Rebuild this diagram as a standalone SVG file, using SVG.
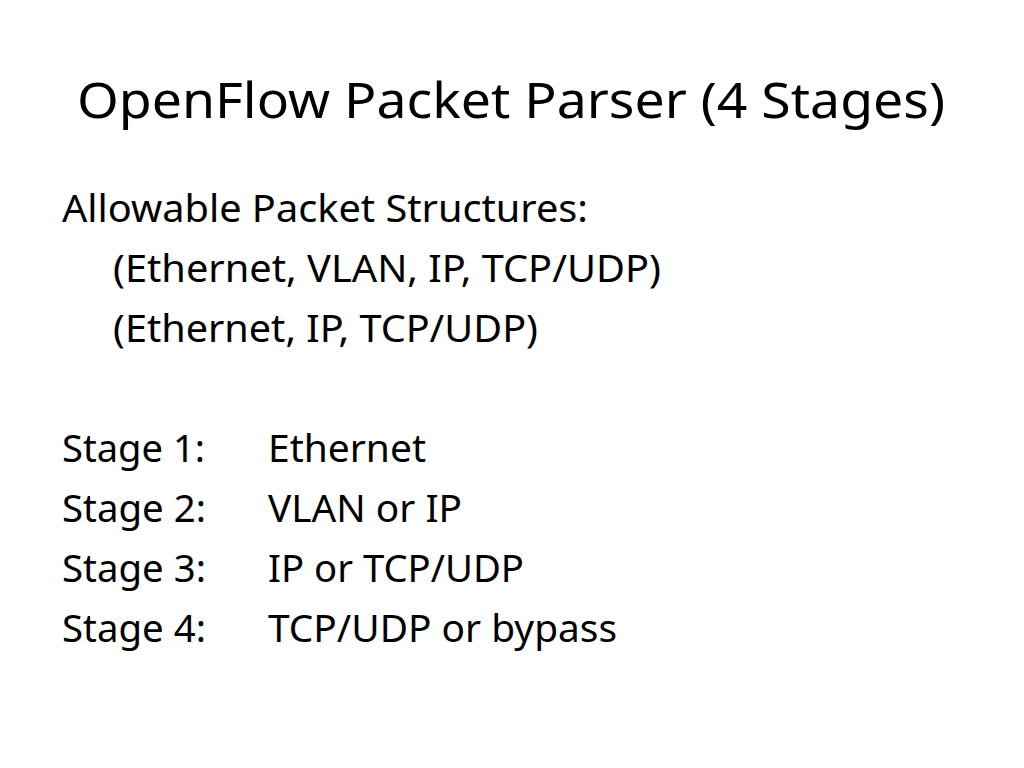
<svg xmlns="http://www.w3.org/2000/svg" width="1024" height="768" viewBox="0 0 1024 768">
<style>
text{font-family:"Noto Sans","Open Sans","Liberation Sans",sans-serif;fill:#000}
.t{font-size:50px}
.b{font-size:38.5px}
</style>
<rect width="1024" height="768" fill="#fff"/>
<g id="title"><text class="t" x="77" y="118" textLength="868" lengthAdjust="spacingAndGlyphs">OpenFlow Packet Parser (4 Stages)</text></g>
<g id="structures">
<text class="b" x="62" y="222" textLength="526" lengthAdjust="spacingAndGlyphs">Allowable Packet Structures:</text>
<text class="b" x="113" y="282" textLength="548" lengthAdjust="spacingAndGlyphs">(Ethernet, VLAN, IP, TCP/UDP)</text>
<text class="b" x="113" y="342" textLength="425" lengthAdjust="spacingAndGlyphs">(Ethernet, IP, TCP/UDP)</text>
</g>
<g id="stages">
<text class="b" x="62" y="462" textLength="143" lengthAdjust="spacingAndGlyphs">Stage 1:</text>
<text class="b" x="268" y="462" textLength="158" lengthAdjust="spacingAndGlyphs">Ethernet</text>
<text class="b" x="62" y="522" textLength="144" lengthAdjust="spacingAndGlyphs">Stage 2:</text>
<text class="b" x="268" y="522" textLength="194" lengthAdjust="spacingAndGlyphs">VLAN or IP</text>
<text class="b" x="62" y="582" textLength="144" lengthAdjust="spacingAndGlyphs">Stage 3:</text>
<text class="b" x="268" y="582" textLength="256" lengthAdjust="spacingAndGlyphs">IP or TCP/UDP</text>
<text class="b" x="62" y="642" textLength="144" lengthAdjust="spacingAndGlyphs">Stage 4:</text>
<text class="b" x="268" y="642" textLength="349" lengthAdjust="spacingAndGlyphs">TCP/UDP or bypass</text>
</g>
</svg>
